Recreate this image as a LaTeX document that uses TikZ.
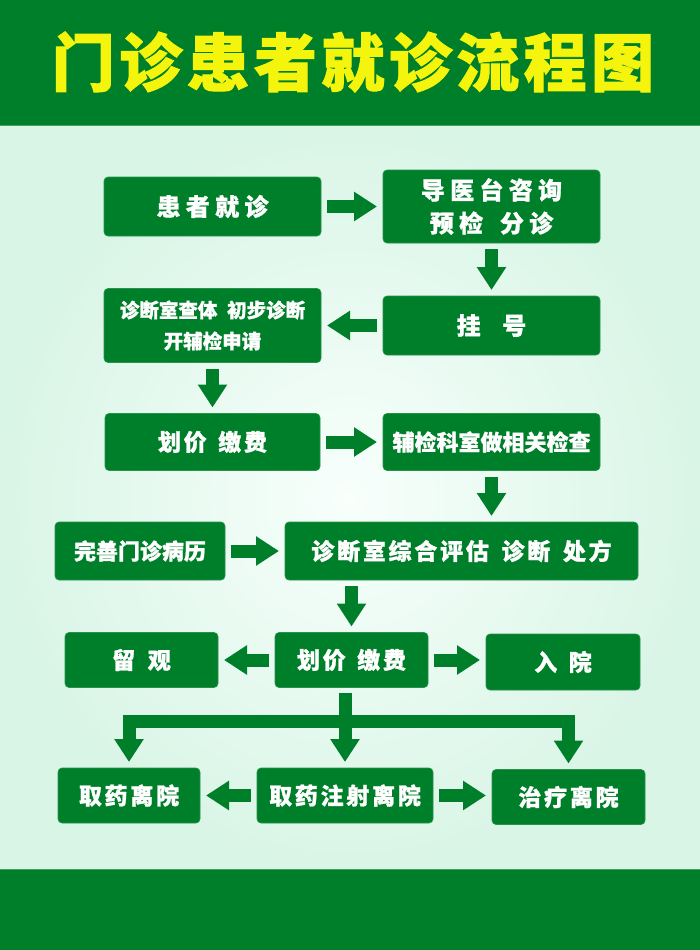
\documentclass[tikz,border=0pt]{standalone}
\usepackage{fontspec}
\usepackage{tikz}
\usetikzlibrary{positioning,arrows.meta}
\newfontfamily\cjk{Noto Sans CJK SC}[BoldFeatures={FakeBold=1}]
\newfontfamily\cjkmid{Noto Sans CJK SC}[LetterSpace=12,BoldFeatures={FakeBold=1}]
\newfontfamily\cjkwide{Noto Sans CJK SC}[LetterSpace=22,BoldFeatures={FakeBold=1}]
\newfontfamily\cjktitle{Noto Sans CJK SC}[LetterSpace=7,BoldFeatures={FakeBold=1.5}]
\definecolor{green700}{HTML}{007F2A}
\definecolor{green400}{HTML}{3FA05A}
\definecolor{mint100} {HTML}{F8FFFC}
\definecolor{mint300} {HTML}{D9F5E6}
\definecolor{yellow400}{HTML}{F4F40C}
\newcommand{\kgap}[1]{\hspace{#1em}}
\tikzset{
  stepbox/.style ={fill=green700, draw=green700!85!white, line width=0.6pt,
                   rounded corners=4pt, align=center, inner sep=0pt,
                   outer sep=0pt, text=white,
                   font=\cjkmid\bfseries\fontsize{23}{33}\selectfont},
  txtwide/.style ={font=\cjkwide\bfseries\fontsize{24}{33}\selectfont},
  txttight/.style={font=\cjk\bfseries\fontsize{22}{33}\selectfont},
  txtsmall/.style={font=\cjk\bfseries\fontsize{19.5}{31}\selectfont},
  blk/.style     ={-{Triangle[width=28pt,length=23pt]}, draw=green700,
                   line width=13pt, shorten <=6pt, shorten >=6pt,
                   line join=miter},
  stem/.style    ={draw=green700, line width=13pt, shorten <=5pt}
}

\begin{document}
\begin{tikzpicture}[x=1pt,y=-1pt]
% background
\useasboundingbox (0,0) rectangle (700,950);
\shade[inner color=mint100, outer color=mint300] (0,125) rectangle (700,870);
\fill[green700] (0,0) rectangle (700,125);
\fill[green700] (0,870) rectangle (700,950);
\draw[green400, line width=1pt] (0,125.5) -- (700,125.5);
\draw[green400, line width=1pt] (0,869.5) -- (700,869.5);
\node[text=yellow400, font=\cjktitle\bfseries\fontsize{63}{63}\selectfont]
  (title) at (353,62) {门诊患者就诊流程图};

% first rows
\node[stepbox, txtwide, minimum width=217pt, minimum height=59pt]
  (visit) at (212.5,206.5) {患者就诊};
\node[stepbox, txtwide, minimum width=217pt, minimum height=73pt,
  right=62pt of visit] (guide) {导医台咨询\\预检\kgap{0.7}分诊};
\node[stepbox, txtwide, minimum width=217pt, minimum height=59pt,
  below=53pt of guide] (reg) {挂\kgap{0.9}号};
\node[stepbox, txtsmall, minimum width=217pt, minimum height=74pt,
  left=62pt of reg] (exam) {诊断室查体\kgap{0.5}初步诊断\\开辅检申请};
\node[stepbox, minimum width=215pt, minimum height=57pt,
  below=51pt of exam] (pay1) {划价\kgap{0.5}缴费};
\node[stepbox, txttight, minimum width=217pt, minimum height=57pt,
  right=63pt of pay1] (check) {辅检科室做相关检查};

% evaluation
\node[stepbox, txttight, minimum width=170pt, minimum height=58pt]
  (record) at (140,551) {完善门诊病历};
\node[stepbox, minimum width=353pt, minimum height=58pt]
  (eval) at (461.5,551) {诊断室综合评估\kgap{0.55}诊断\kgap{0.55}处方};

% payment and outcomes
\node[stepbox, minimum width=153pt, minimum height=55pt]
  (pay2) at (351.5,660) {划价\kgap{0.5}缴费};
\node[stepbox, minimum width=153pt, minimum height=55pt]
  (observe) at (141.5,660) {留\kgap{0.55}观};
\node[stepbox, minimum width=154pt, minimum height=56pt]
  (admit) at (563,662) {入\kgap{0.5}院};
\node[stepbox, minimum width=142pt, minimum height=55pt]
  (take1) at (129,795.5) {取药离院};
\node[stepbox, minimum width=176pt, minimum height=55pt]
  (take2) at (345,795.5) {取药注射离院};
\node[stepbox, minimum width=153pt, minimum height=55pt]
  (take3) at (568.5,797) {治疗离院};
\coordinate (fork) at (345,721.5);

\draw[blk] (visit) -- (guide);
\draw[blk] (guide) -- (reg);
\draw[blk] (reg) -- (exam);
\draw[blk] (exam) -- (pay1);
\draw[blk] (pay1) -- (check);
\draw[blk] (check) -- (check |- eval.north);
\draw[blk] (record) -- (eval);
\draw[blk] (eval.south -| pay2) -- (pay2);
\draw[blk] (pay2) -- (observe);
\draw[blk] (pay2) -- (pay2 -| admit.west);
\draw[stem] (pay2.south -| fork) -- (fork);
\draw[blk, shorten <=0pt] (fork) -| (take1);
\draw[blk, shorten <=0pt] (fork) -| (take3);
\draw[blk, shorten <=0pt] (fork) -- (take2);
\draw[blk] (take2) -- (take1);
\draw[blk] (take2) -- (take2 -| take3.west);
\end{tikzpicture}
\end{document}
